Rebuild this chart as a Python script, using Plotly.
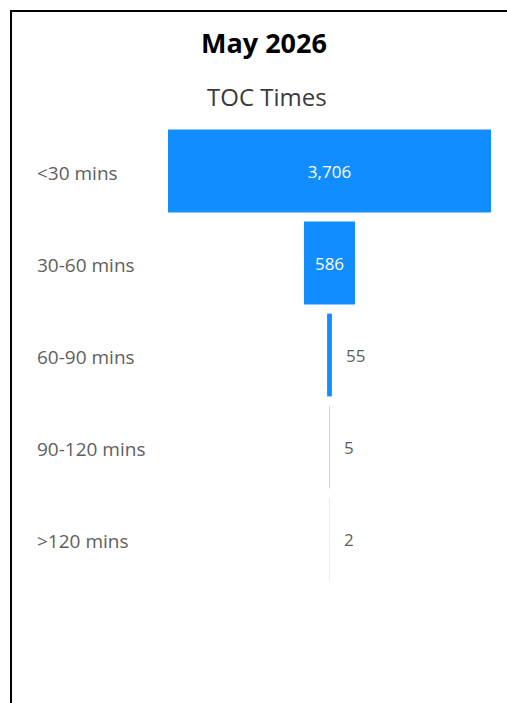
import plotly.graph_objects as go

# ---- data ----
categories = ["<30 mins", "30-60 mins", "60-90 mins", "90-120 mins", ">120 mins"]
values = [3706, 586, 55, 5, 2]
value_labels = ["3,706", "586", "55", "5", "2"]
inside_flags = [True, True, False, False, False]

main_title = "May 2026"
chart_title = "TOC Times"

# ---- style ----
W, H = 507, 703
bar_colors = ["#118DFF", "#118DFF", "#118DFF", "#BFDDFF", "#E0EFFF"]
label_color = "#605E5C"
font_family = "Open Sans, Noto Sans, sans-serif"

def px_x(p):
    return p / W

def px_y(p):
    return 1 - p / H

maxv = max(values)

fig = go.Figure()
fig.add_trace(go.Funnel(
    y=categories,
    x=values,
    text=[t if ins else "" for t, ins in zip(value_labels, inside_flags)],
    textinfo="text",
    textposition=["inside" if ins else "none" for ins in inside_flags],
    insidetextanchor="middle",
    textfont=dict(family=font_family, size=17, color="white"),
    marker=dict(color=bar_colors, line=dict(width=0)),
    connector=dict(visible=False),
    hoverinfo="skip",
    constraintext="none",
))

annotations = []
# category labels (left aligned)
for c in categories:
    annotations.append(dict(
        x=px_x(35), xref="paper", y=c, yref="y",
        text=c, showarrow=False, xanchor="left", yanchor="middle",
        yshift=-2,
        font=dict(family=font_family, size=19, color=label_color),
    ))
# outside value labels
for c, v, t, ins in zip(categories, values, value_labels, inside_flags):
    if not ins:
        annotations.append(dict(
            x=v / 2, xref="x", y=c, yref="y",
            text=t, showarrow=False, xanchor="left", yanchor="middle",
            xshift=12,
            font=dict(family=font_family, size=17, color=label_color),
        ))
# titles
annotations.append(dict(
    x=px_x(264), y=px_y(42), xref="paper", yref="paper",
    text="<b>" + main_title + "</b>", showarrow=False,
    xanchor="center", yanchor="middle",
    font=dict(family=font_family, size=27, color="black"),
))
annotations.append(dict(
    x=px_x(267), y=px_y(97), xref="paper", yref="paper",
    text=chart_title, showarrow=False,
    xanchor="center", yanchor="middle",
    font=dict(family=font_family, size=24, color="#3A3A3A"),
))

fig.update_layout(
    width=W, height=H,
    margin=dict(l=0, r=0, t=0, b=0),
    paper_bgcolor="white", plot_bgcolor="white",
    showlegend=False,
    funnelgap=0.1,
    xaxis=dict(domain=[px_x(168), px_x(491)], range=[-maxv / 2, maxv / 2],
               visible=False, fixedrange=True),
    yaxis=dict(domain=[px_y(585), px_y(125)], type="category",
               categoryorder="array", categoryarray=categories,
               range=[len(categories) - 0.5, -0.5],
               visible=False, fixedrange=True),
    annotations=annotations,
    shapes=[dict(type="rect", xref="paper", yref="paper",
                 x0=px_x(11), x1=1.2, y0=-0.2, y1=px_y(11),
                 line=dict(color="black", width=2), fillcolor="rgba(0,0,0,0)")],
)

fig.write_html("out.html", config={"displayModeBar": False})
